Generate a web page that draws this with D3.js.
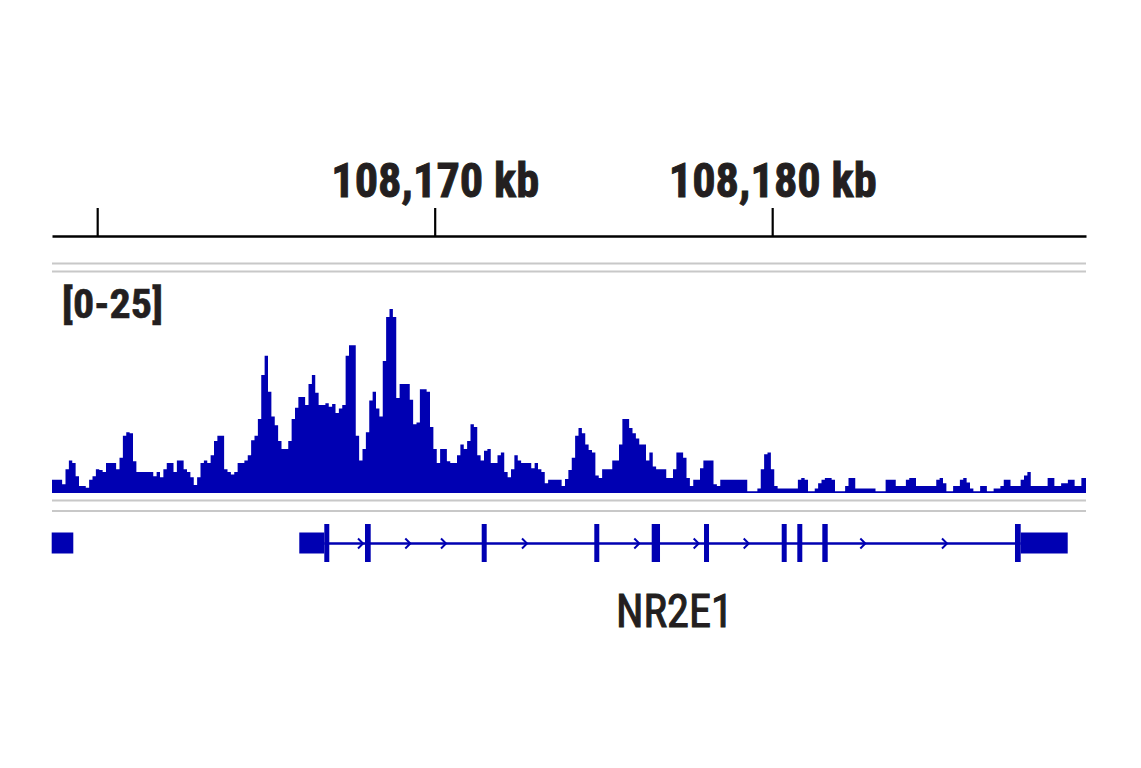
<!DOCTYPE html>
<html>
<head>
<meta charset="utf-8">
<script src="https://cdn.jsdelivr.net/npm/d3@7/dist/d3.min.js"></script>
<style>
  html, body { margin: 0; padding: 0; background: #ffffff; }
  svg { display: block; }
</style>
</head>
<body>
<svg id="chart" width="1141" height="768"></svg>
<script>
// ---------------- DATA ----------------
// visible genomic window (kb)
const regionKb = [108158.661, 108189.298];
// ruler ticks (kb) and which of them carry a label
const rulerTicks = [108160, 108170, 108180];
const rulerLabels = ["", "108,170 kb", "108,180 kb"];
// coverage track data range
const dataRange = [0, 25];
const dataRangeLabel = "[0-25]";
// coverage bins: start of first bin (kb), bin width (kb), values
const binStartKb = 108158.661;
const binWidthKb = 0.1;
const coverage = [
  1.5,1.5,1.5,1.0,2.7,3.7,3.4,1.9,0.8,0.8,
  0.6,1.5,1.9,2.7,2.6,2.4,3.4,3.4,3.4,2.7,
  4.0,6.5,6.9,6.8,3.6,2.4,2.4,2.4,2.4,2.4,
  1.9,2.4,1.8,2.7,3.4,3.4,2.4,3.7,3.7,2.7,
  2.4,1.8,0.9,1.8,3.4,3.7,3.4,4.3,5.9,6.5,
  6.5,2.7,2.4,2.1,2.4,3.4,3.4,3.7,4.3,6.0,
  6.5,8.4,13.4,15.6,11.5,8.7,7.7,5.9,5.0,5.0,
  5.9,8.4,9.7,10.9,10.9,10.0,12.4,13.4,11.4,10.0,
  10.0,10.2,9.8,10.1,9.1,9.6,10.0,15.6,16.8,16.8,
  6.5,3.7,5.0,6.9,10.5,11.5,9.6,8.7,15.0,20.0,
  20.9,20.0,10.8,12.4,12.4,12.4,10.6,7.8,8.0,11.8,
  11.8,11.5,7.5,5.0,3.4,5.0,5.0,3.6,3.4,3.4,
  4.3,5.5,5.0,5.9,7.8,7.5,4.3,3.7,4.8,5.0,
  3.4,3.4,4.3,4.6,2.4,1.8,2.7,4.3,3.7,3.4,
  3.4,3.4,2.8,3.4,2.7,2.4,1.1,1.5,1.5,1.5,
  1.5,0.8,1.6,2.6,4.0,6.5,7.4,6.8,5.5,4.9,
  4.6,2.0,1.7,2.7,2.7,2.7,3.7,3.7,5.5,8.4,
  8.4,7.4,6.8,6.2,5.5,5.5,3.7,4.6,3.0,2.7,
  2.7,2.7,1.7,1.7,2.7,4.6,4.6,4.0,1.7,0.8,
  1.5,1.5,2.8,3.7,3.7,3.7,1.0,0.8,1.5,1.5,
  1.5,1.5,1.5,1.5,1.5,1.5,0.2,0.2,0.2,0.5,
  2.7,4.4,4.6,2.7,0.8,0.5,0.5,0.5,0.5,0.5,
  0.5,1.5,1.7,1.5,0.2,0.2,0.5,1.1,1.5,1.7,
  1.7,1.5,0.2,0.2,0.2,0.8,1.7,1.7,0.5,0.5,
  0.5,0.5,0.5,0.5,0.2,0.2,0.2,1.5,1.5,1.5,
  0.8,0.8,0.8,1.5,1.7,1.7,0.8,0.8,0.8,0.8,
  0.8,0.8,1.5,1.7,1.1,0.2,0.2,0.8,0.8,1.5,
  1.7,1.2,0.5,0.2,0.2,0.8,0.8,0.2,0.2,0.5,
  0.5,0.8,1.5,1.5,0.8,0.8,0.8,1.5,2.0,2.4,
  0.8,0.8,0.8,0.8,0.8,1.7,1.7,0.8,0.8,1.1,
  1.1,1.5,1.5,0.8,0.8,1.7
];
// gene annotation (kb)
const geneName = "NR2E1";
const neighbourUtr = [[108158.652, 108159.292]];
const utrBlocks = [[108165.988, 108166.729], [108187.363, 108188.756]];
const exonBlocks = [
  [108166.729, 108166.877], [108167.935, 108168.104], [108171.393, 108171.541],
  [108174.729, 108174.877], [108176.430, 108176.676], [108177.980, 108178.128],
  [108180.282, 108180.430], [108180.744, 108180.892], [108181.485, 108181.645],
  [108187.194, 108187.363]
];
const intronSpan = [108166.729, 108187.363];
const strandArrows = [108167.817, 108169.218, 108170.276, 108172.676, 108176.003,
                      108177.763, 108179.245, 108182.700, 108185.120];

// ---------------- DRAWING ----------------
const TRACK_COLOR = "rgb(0,0,178)";
const TEXT_COLOR = "#231f20";
const SEP_COLOR = "#c8c8c8";
const FONT = "'Liberation Sans Narrow', 'Arial Narrow', 'Roboto Condensed', 'Liberation Sans', Arial, sans-serif";

const svg = d3.select("#chart");
const x = d3.scaleLinear().domain(regionKb).range([52, 1086]);
const y = d3.scaleLinear().domain(dataRange).range([493, 273]);

// Ruler
const rulerY = 236;
const axis = d3.axisTop(x)
  .tickValues(rulerTicks)
  .tickSize(28)
  .tickSizeOuter(0)
  .tickPadding(11)
  .tickFormat((d, i) => rulerLabels[i]);
const gAxis = svg.append("g").attr("transform", `translate(0,${rulerY})`).call(axis);
gAxis.select(".domain").attr("stroke", "#000").attr("stroke-width", 2.5);
gAxis.selectAll(".tick line").attr("stroke", "#000").attr("stroke-width", 2.2);
gAxis.selectAll(".tick text")
  .attr("fill", TEXT_COLOR)
  .attr("stroke", TEXT_COLOR)
  .attr("stroke-width", 0.9)
  .style("font-family", FONT)
  .style("font-weight", "bold")
  .style("font-size", "49px")
  .attr("textLength", d => d === rulerTicks[0] ? null : 208)
  .attr("lengthAdjust", "spacingAndGlyphs");

// separator lines
[263.5, 271.5, 500.5, 511].forEach(yy => {
  svg.append("line")
    .attr("x1", x(regionKb[0])).attr("x2", x(regionKb[1]))
    .attr("y1", yy).attr("y2", yy)
    .attr("stroke", SEP_COLOR).attr("stroke-width", 2.2);
});

// Coverage
const covPts = coverage.map((v, i) => ({ pos: binStartKb + i * binWidthKb, v }));
covPts.push({ pos: regionKb[1], v: coverage[coverage.length - 1] });
const area = d3.area()
  .x(d => x(Math.min(d.pos, regionKb[1])))
  .y0(y(0))
  .y1(d => y(d.v))
  .curve(d3.curveStepAfter);
svg.append("path")
  .datum(covPts)
  .attr("d", area)
  .attr("fill", TRACK_COLOR)
  .attr("stroke", "none");

svg.append("text")
  .attr("x", 62).attr("y", 318)
  .attr("fill", TEXT_COLOR)
  .attr("stroke", TEXT_COLOR)
  .attr("stroke-width", 0.6)
  .style("font-family", FONT)
  .style("font-weight", "bold")
  .style("font-size", "40px")
  .attr("textLength", 101)
  .attr("lengthAdjust", "spacingAndGlyphs")
  .text(dataRangeLabel);

// Gene track
const geneY = 543.5;
const g = svg.append("g");
g.append("line")
  .attr("x1", x(intronSpan[0])).attr("x2", x(intronSpan[1]))
  .attr("y1", geneY).attr("y2", geneY)
  .attr("stroke", TRACK_COLOR).attr("stroke-width", 2.4);
g.selectAll("path.arrow")
  .data(strandArrows)
  .join("path")
  .attr("class", "arrow")
  .attr("d", d => `M${x(d) - 3},${geneY - 5} L${x(d) + 2},${geneY} L${x(d) - 3},${geneY + 5}`)
  .attr("fill", "none")
  .attr("stroke", TRACK_COLOR)
  .attr("stroke-width", 2);
g.selectAll("rect.utr")
  .data(neighbourUtr.concat(utrBlocks))
  .join("rect")
  .attr("class", "utr")
  .attr("x", d => x(d[0]))
  .attr("width", d => x(d[1]) - x(d[0]))
  .attr("y", geneY - 11)
  .attr("height", 21)
  .attr("fill", TRACK_COLOR);
g.selectAll("rect.exon")
  .data(exonBlocks)
  .join("rect")
  .attr("class", "exon")
  .attr("x", d => x(d[0]))
  .attr("width", d => x(d[1]) - x(d[0]))
  .attr("y", geneY - 19.5)
  .attr("height", 38)
  .attr("fill", TRACK_COLOR);

svg.append("text")
  .attr("x", 616).attr("y", 627)
  .attr("fill", TEXT_COLOR)
  .attr("stroke", TEXT_COLOR)
  .attr("stroke-width", 1.1)
  .style("font-family", FONT)
  .style("font-size", "46px")
  .attr("textLength", 117)
  .attr("lengthAdjust", "spacingAndGlyphs")
  .text(geneName);
</script>
</body>
</html>
